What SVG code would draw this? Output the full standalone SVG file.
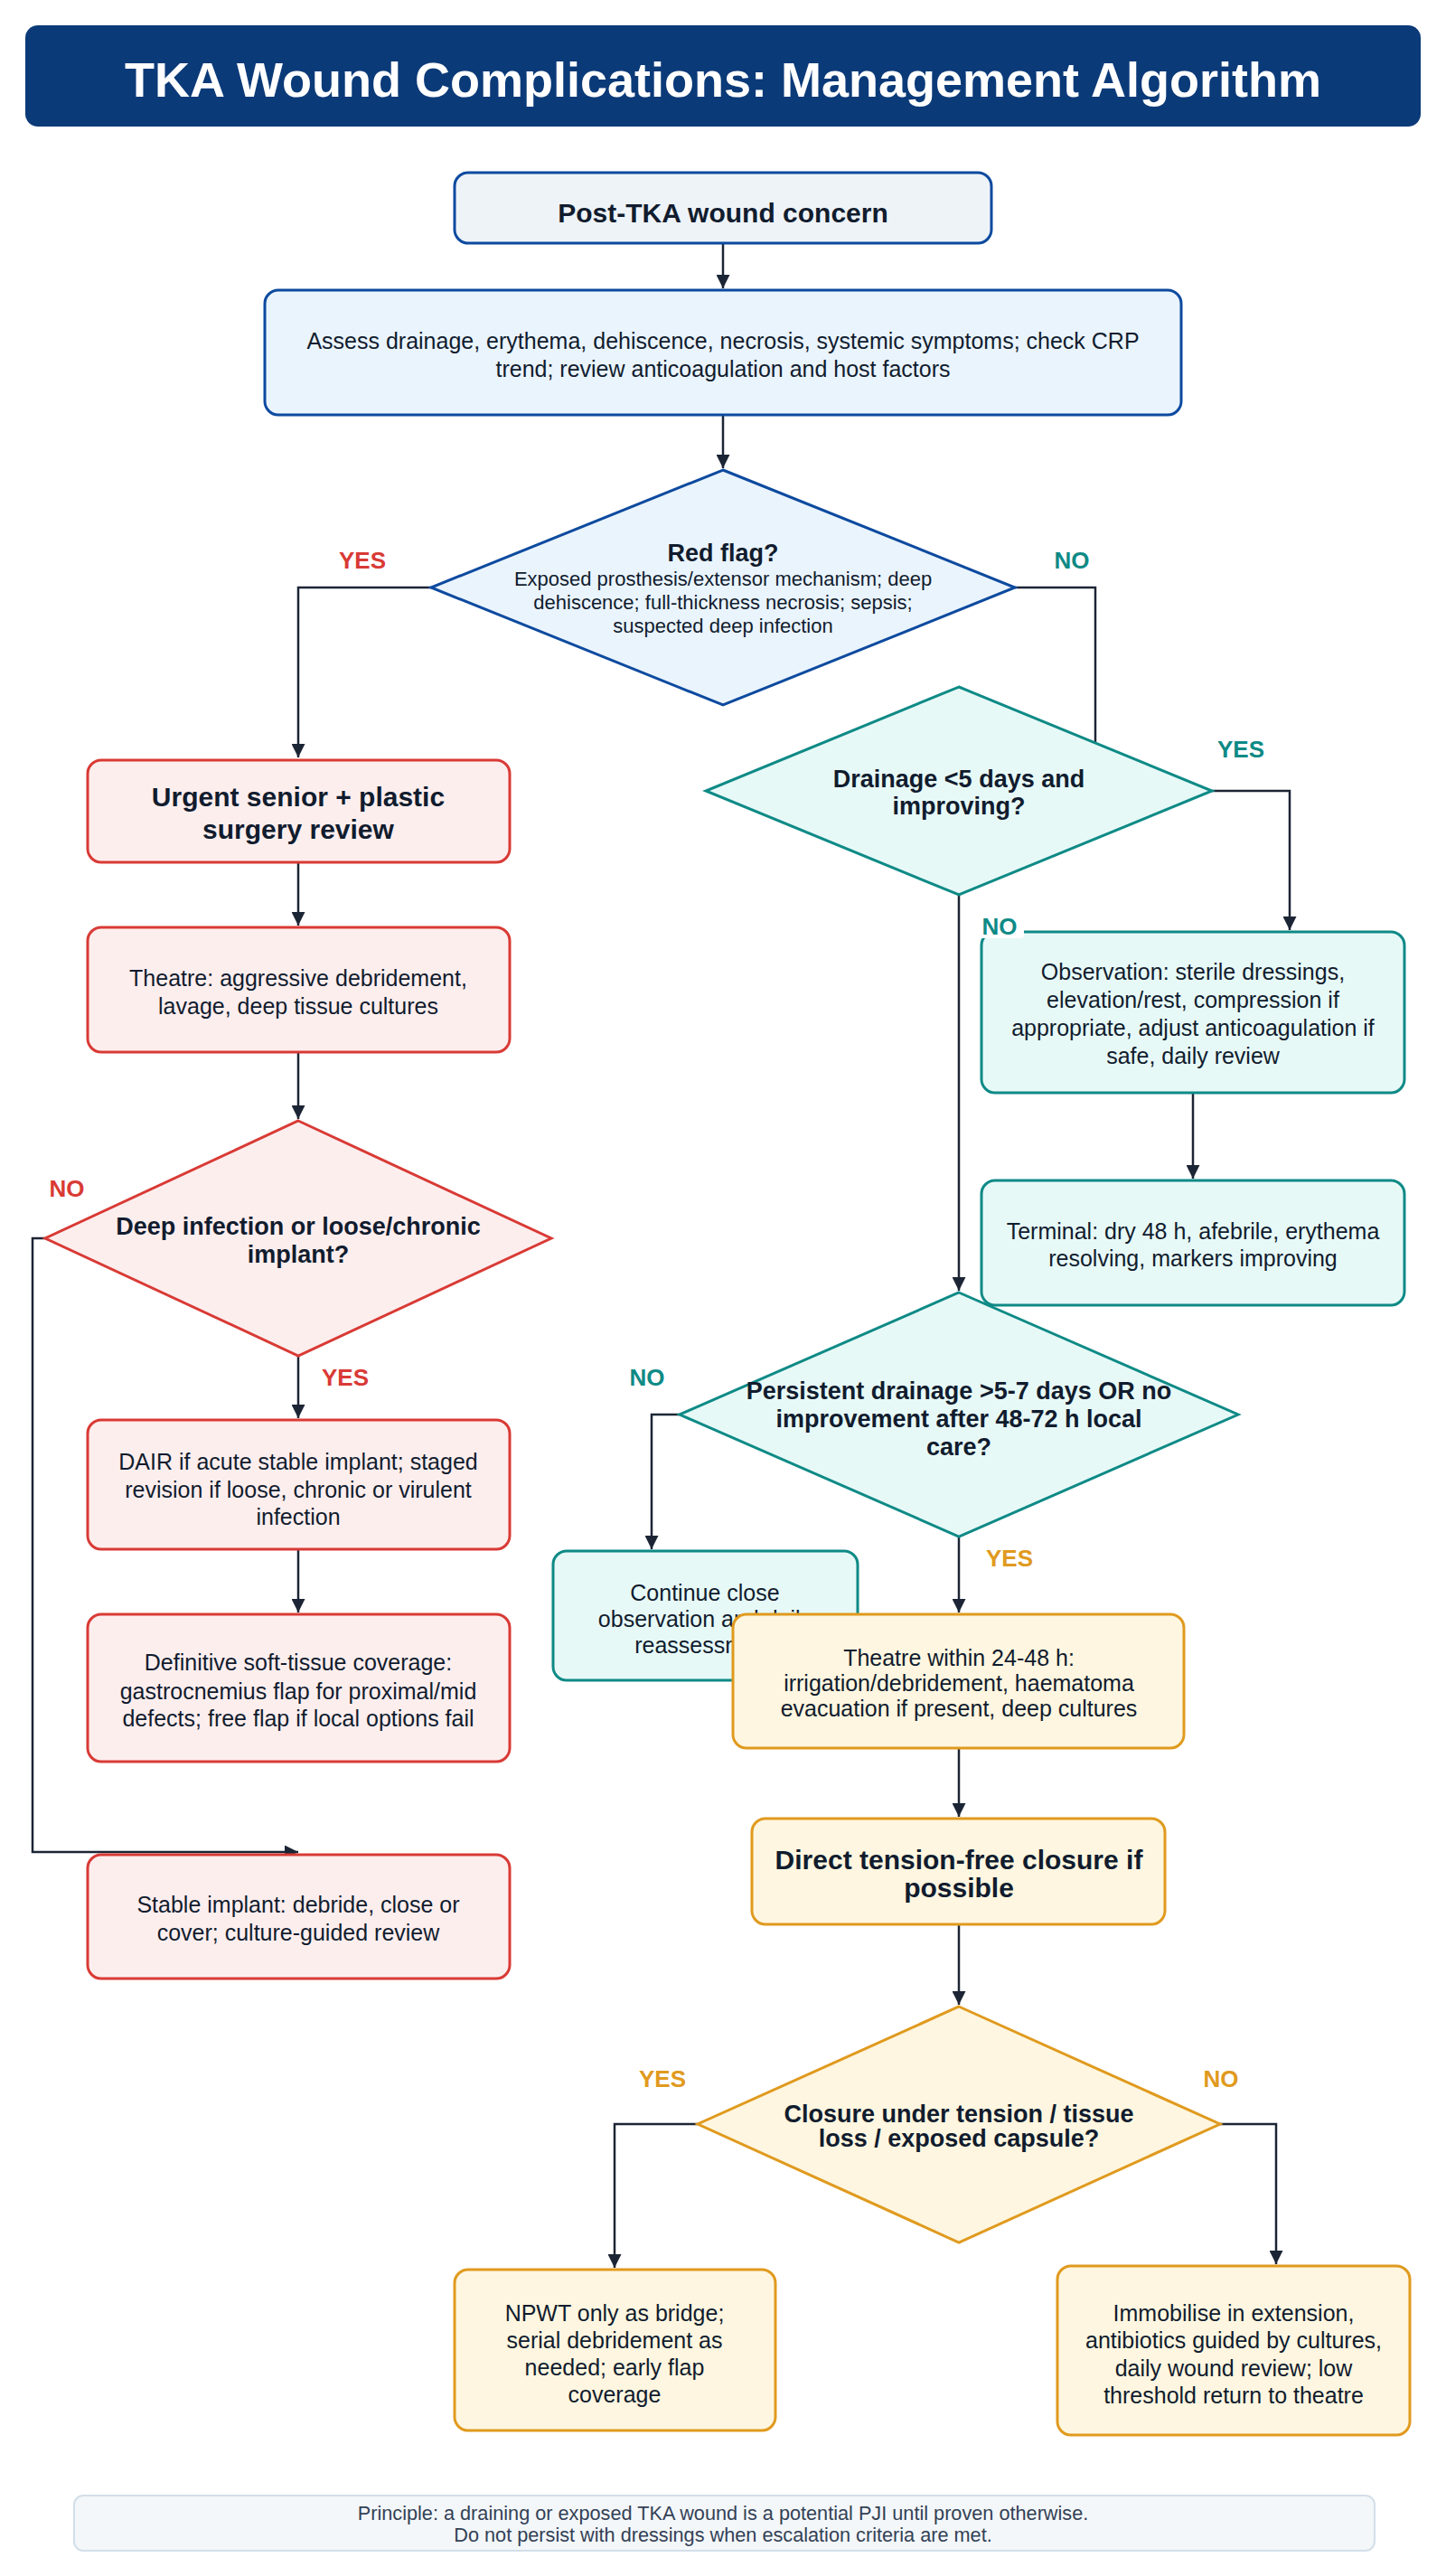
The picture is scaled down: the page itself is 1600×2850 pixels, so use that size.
<svg xmlns="http://www.w3.org/2000/svg" width="1600" height="2850" viewBox="0 0 1600 2850">
<defs>
<style>
.t{font-family:"Liberation Sans",Arial,Helvetica,sans-serif;fill:#111c2e;text-anchor:middle}
.body{font-size:25px}
.small{font-size:22px}
.head{font-size:30px;font-weight:bold}
.dh{font-size:27px;font-weight:bold}
.lbl{font-family:"Liberation Sans",Arial,Helvetica,sans-serif;font-size:26px;font-weight:bold;text-anchor:middle}
.edge{fill:none;stroke:#1c2535;stroke-width:2.5}
.blue{fill:#eaf4fd;stroke:#0d4a9f;stroke-width:3}
.blue0{fill:#eef3f8;stroke:#0d4a9f;stroke-width:3}
.red{fill:#fdeeee;stroke:#d93a35;stroke-width:3}
.teal{fill:#e7f9f7;stroke:#0e8a86;stroke-width:3}
.org{fill:#fef6e0;stroke:#e09a1e;stroke-width:3}
.cr{fill:#d93a35}.ct{fill:#0e8a86}.co{fill:#e09a1e}
</style>
<marker id="arr" markerUnits="userSpaceOnUse" markerWidth="15" markerHeight="15" refX="15" refY="7.5" orient="auto">
<path d="M0,0 L15,7.5 L0,15 z" fill="#1c2535"/>
</marker>
</defs>
<rect width="1600" height="2850" fill="#ffffff"/>

<g id="title">
<rect x="28" y="28" width="1544" height="112" rx="14" fill="#0b3a78"/>
<text x="800" y="107" style="font-family:'Liberation Sans',Arial,sans-serif;font-size:54px;font-weight:bold;fill:#ffffff;text-anchor:middle">TKA Wound Complications: Management Algorithm</text>
</g>

<g id="connectors">
<path class="edge" d="M800,269 V319" marker-end="url(#arr)"/>
<path class="edge" d="M800,459 V518" marker-end="url(#arr)"/>
<path class="edge" d="M477,650 H330 V838" marker-end="url(#arr)"/>
<path class="edge" d="M1123,650 H1212 V830"/>
<path class="edge" d="M1341,875 H1427 V1029" marker-end="url(#arr)"/>
<path class="edge" d="M1061,990 V1428" marker-end="url(#arr)"/>
<path class="edge" d="M1320,1209 V1304" marker-end="url(#arr)"/>
<path class="edge" d="M330,954 V1024" marker-end="url(#arr)"/>
<path class="edge" d="M330,1164 V1238" marker-end="url(#arr)"/>
<path class="edge" d="M50,1370 H36 V2049 H330" marker-end="url(#arr)"/>
<path class="edge" d="M330,1500 V1569" marker-end="url(#arr)"/>
<path class="edge" d="M330,1714 V1784" marker-end="url(#arr)"/>
<path class="edge" d="M752,1565 H721 V1714" marker-end="url(#arr)"/>
<path class="edge" d="M1061,1700 V1784" marker-end="url(#arr)"/>
<path class="edge" d="M1061,1934 V2010" marker-end="url(#arr)"/>
<path class="edge" d="M1061,2129 V2218" marker-end="url(#arr)"/>
<path class="edge" d="M772,2350 H680 V2509" marker-end="url(#arr)"/>
<path class="edge" d="M1350,2350 H1412 V2505" marker-end="url(#arr)"/>
</g>

<g id="nodes">
<g id="n-start">
<rect class="blue0" x="503" y="191" width="594" height="78" rx="15"/>
<text class="t head" x="800" y="246">Post-TKA wound concern</text>
</g>
<g id="n-assess">
<rect class="blue" x="293" y="321" width="1014" height="138" rx="15"/>
<text class="t body" x="800" y="386">Assess drainage, erythema, dehiscence, necrosis, systemic symptoms; check CRP</text>
<text class="t body" x="800" y="417">trend; review anticoagulation and host factors</text>
</g>
<g id="n-redflag">
<polygon class="blue" points="800,520 1123,650 800,780 477,650"/>
<text class="t dh" x="800" y="621">Red flag?</text>
<text class="t small" x="800" y="648">Exposed prosthesis/extensor mechanism; deep</text>
<text class="t small" x="800" y="674">dehiscence; full-thickness necrosis; sepsis;</text>
<text class="t small" x="800" y="700">suspected deep infection</text>
</g>
<g id="n-drainage">
<polygon class="teal" points="1061,760 1341,875 1061,990 781,875"/>
<text class="t dh" x="1061" y="871">Drainage &lt;5 days and</text>
<text class="t dh" x="1061" y="901">improving?</text>
</g>
<g id="n-urgent">
<rect class="red" x="97" y="841" width="467" height="113" rx="15"/>
<text class="t head" x="330" y="892">Urgent senior + plastic</text>
<text class="t head" x="330" y="928">surgery review</text>
</g>
<g id="n-theatre1">
<rect class="red" x="97" y="1026" width="467" height="138" rx="15"/>
<text class="t body" x="330" y="1091">Theatre: aggressive debridement,</text>
<text class="t body" x="330" y="1122">lavage, deep tissue cultures</text>
</g>
<g id="n-observation">
<rect class="teal" x="1086" y="1031" width="468" height="178" rx="15"/>
<text class="t body" x="1320" y="1084">Observation: sterile dressings,</text>
<text class="t body" x="1320" y="1115">elevation/rest, compression if</text>
<text class="t body" x="1320" y="1146">appropriate, adjust anticoagulation if</text>
<text class="t body" x="1320" y="1177">safe, daily review</text>
</g>
<g id="n-terminal">
<rect class="teal" x="1086" y="1306" width="468" height="138" rx="15"/>
<text class="t body" x="1320" y="1371">Terminal: dry 48 h, afebrile, erythema</text>
<text class="t body" x="1320" y="1401">resolving, markers improving</text>
</g>
<g id="n-deep">
<polygon class="red" points="330,1240 610,1370 330,1500 50,1370"/>
<text class="t dh" x="330" y="1366">Deep infection or loose/chronic</text>
<text class="t dh" x="330" y="1397">implant?</text>
</g>
<g id="n-persistent">
<polygon class="teal" points="1061,1430 1370,1565 1061,1700 752,1565"/>
<text class="t dh" x="1061" y="1548">Persistent drainage &gt;5-7 days OR no</text>
<text class="t dh" x="1061" y="1579">improvement after 48-72 h local</text>
<text class="t dh" x="1061" y="1610">care?</text>
</g>
<g id="n-dair">
<rect class="red" x="97" y="1571" width="467" height="143" rx="15"/>
<text class="t body" x="330" y="1626">DAIR if acute stable implant; staged</text>
<text class="t body" x="330" y="1657">revision if loose, chronic or virulent</text>
<text class="t body" x="330" y="1687">infection</text>
</g>
<g id="n-definitive">
<rect class="red" x="97" y="1786" width="467" height="163" rx="15"/>
<text class="t body" x="330" y="1848">Definitive soft-tissue coverage:</text>
<text class="t body" x="330" y="1880">gastrocnemius flap for proximal/mid</text>
<text class="t body" x="330" y="1910">defects; free flap if local options fail</text>
</g>
<g id="n-continue">
<rect class="teal" x="612" y="1716" width="337" height="143" rx="15"/>
<text class="t body" x="780" y="1771">Continue close</text>
<text class="t body" x="780" y="1800">observation and daily</text>
<text class="t body" x="780" y="1829">reassessment</text>
</g>
<g id="n-theatre2">
<rect class="org" x="811" y="1786" width="499" height="148" rx="15"/>
<text class="t body" x="1061" y="1843">Theatre within 24-48 h:</text>
<text class="t body" x="1061" y="1871">irrigation/debridement, haematoma</text>
<text class="t body" x="1061" y="1899">evacuation if present, deep cultures</text>
</g>
<g id="n-stable">
<rect class="red" x="97" y="2052" width="467" height="137" rx="15"/>
<text class="t body" x="330" y="2116">Stable implant: debride, close or</text>
<text class="t body" x="330" y="2147">cover; culture-guided review</text>
</g>
<g id="n-direct">
<rect class="org" x="832" y="2012" width="457" height="117" rx="15"/>
<text class="t head" x="1061" y="2068">Direct tension-free closure if</text>
<text class="t head" x="1061" y="2099">possible</text>
</g>
<g id="n-closure">
<polygon class="org" points="1061,2220 1350,2350 1061,2481 772,2350"/>
<text class="t dh" x="1061" y="2348">Closure under tension / tissue</text>
<text class="t dh" x="1061" y="2375">loss / exposed capsule?</text>
</g>
<g id="n-npwt">
<rect class="org" x="503" y="2511" width="355" height="178" rx="15"/>
<text class="t body" x="680" y="2568">NPWT only as bridge;</text>
<text class="t body" x="680" y="2598">serial debridement as</text>
<text class="t body" x="680" y="2628">needed; early flap</text>
<text class="t body" x="680" y="2658">coverage</text>
</g>
<g id="n-immobilise">
<rect class="org" x="1170" y="2507" width="390" height="187" rx="15"/>
<text class="t body" x="1365" y="2568">Immobilise in extension,</text>
<text class="t body" x="1365" y="2598">antibiotics guided by cultures,</text>
<text class="t body" x="1365" y="2629">daily wound review; low</text>
<text class="t body" x="1365" y="2659">threshold return to theatre</text>
</g>
<g id="n-footer">
<rect x="82" y="2761" width="1439" height="61" rx="10" fill="#f3f7fa" stroke="#d3dfe9" stroke-width="2"/>
<text class="t" x="800" y="2788" style="font-size:21.7px;fill:#334155">Principle: a draining or exposed TKA wound is a potential PJI until proven otherwise.</text>
<text class="t" x="800" y="2812" style="font-size:21.7px;fill:#334155">Do not persist with dressings when escalation criteria are met.</text>
</g>
</g>

<g id="edge-labels">
<text class="lbl cr" x="401" y="629">YES</text>
<text class="lbl ct" x="1186" y="629">NO</text>
<text class="lbl ct" x="1373" y="838">YES</text>
<rect x="1083" y="1011" width="50" height="27" rx="4" fill="#ffffff"/>
<text class="lbl ct" x="1106" y="1034">NO</text>
<text class="lbl cr" x="74" y="1324">NO</text>
<text class="lbl cr" x="382" y="1533">YES</text>
<text class="lbl ct" x="716" y="1533">NO</text>
<text class="lbl co" x="1117" y="1733">YES</text>
<text class="lbl co" x="733" y="2309">YES</text>
<text class="lbl co" x="1351" y="2309">NO</text>
</g>
</svg>
